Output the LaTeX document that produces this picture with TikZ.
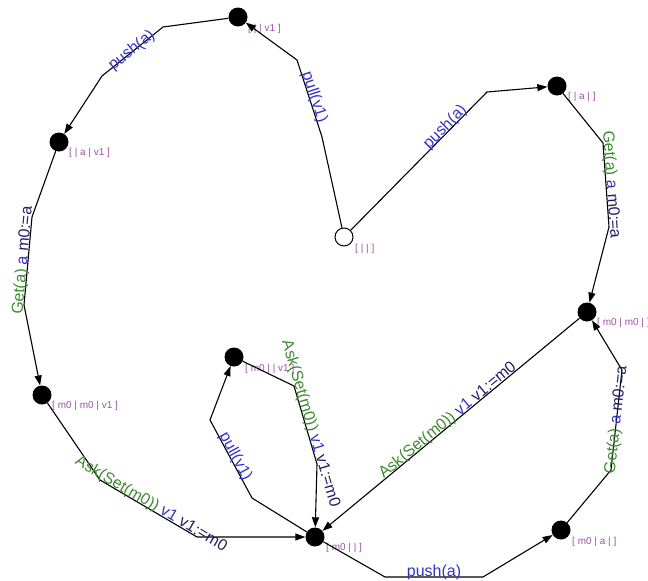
\documentclass[tikz,border=0pt]{standalone}
\usepackage{fontspec}
\setmainfont{Liberation Sans}
\usetikzlibrary{arrows.meta,positioning}
\definecolor{act}{HTML}{3333CC}
\definecolor{guard}{HTML}{3D8B2F}
\definecolor{asgn}{HTML}{1F1F66}
\definecolor{tagc}{HTML}{A050A8}

\begin{document}
\begin{tikzpicture}[x=1pt,y=-1pt,
  st/.style={circle,fill=black,minimum size=19pt,inner sep=0pt},
  ini/.style={circle,draw=black,fill=white,line width=1pt,minimum size=18pt,inner sep=0pt},
  tag/.style={font=\fontsize{10}{12}\selectfont,text=tagc,inner sep=0pt,anchor=north west},
  edge/.style={line width=1.1pt,-{Triangle[length=10pt,width=7pt]}},
  lbl/.style={font=\fontsize{16}{18}\selectfont,sloped,above=-3pt,inner sep=0pt}]
\useasboundingbox (0,0) rectangle (648,581);
\node[ini] (e) at (344,237) {};
\node[tag] (te) at (355,244) {[ | | ]};
\node[st] (t) at (238,17) {};
\node[tag] (tt) at (248,24) {[ | | v1 ]};
\node[st] (r1) at (557,86) {};
\node[tag] (tr1) at (568,92) {[ | a | ]};
\node[st] (l1) at (59,142) {};
\node[tag] (tl1) at (69,148) {[ | a | v1 ]};
\node[st] (l2) at (42,395) {};
\node[tag] (tl2) at (52,401) {[ m0 | m0 | v1 ]};
\node[st] (r2) at (587,312) {};
\node[tag] (tr2) at (597,318) {[ m0 | m0 | ]};
\node[st] (m) at (234,357) {};
\node[tag] (tm) at (245,364) {[ m0 | | v1 ]};
\node[st] (c) at (315,537) {};
\node[tag] (tc) at (326,543) {[ m0 | | ]};
\node[st] (r3) at (561,530) {};
\node[tag] (tr3) at (572,537) {[ m0 | a | ]};
\draw[edge] (e) -- (322,137) -- node[lbl,text=act] {pull(v1)} (297,60) -- (t);
\draw[edge] (e) -- node[lbl,text=act,pos=0.72] {push(a)} (487,92) -- (r1);
\draw[edge] (t) -- (163,27) -- node[lbl,text=act,above=-7pt] {push(a)} (102,76) -- (l1);
\draw[edge] (l1) -- (32,217) -- node[lbl] {{\color{guard}Get(a)} {\color{act}a} {\color{asgn}m0:=a}} (24,305) -- (l2);
\draw[edge] (l2) -- (100,480) -- node[lbl] {{\color{guard}Ask(Set(m0))} {\color{act}v1} {\color{asgn}v1:=m0}} (197,537) -- (c);
\draw[edge] (r1) -- (603,143) -- node[lbl] {{\color{guard}Get(a)} {\color{act}a} {\color{asgn}m0:=a}} (609,227) -- (r2);
\draw[edge] (r2) -- node[lbl] {{\color{guard}Ask(Set(m0))} {\color{act}v1} {\color{asgn}v1:=m0}} (c);
\draw[edge] (r3) -- (611,470) -- node[lbl,above=-8pt] {{\color{guard}Get(a)} {\color{act}a} {\color{asgn}m0:=a}} (622,370) -- (r2);
\draw[edge] (c) -- (385,577) -- node[lbl,text=act] {push(a)} (483,577) -- (r3);
\draw[edge] (c) -- (252,498) -- node[lbl,text=act] {pull(v1)} (210,420) -- (m);
\draw[edge] (m) -- (294,386) -- node[lbl] {{\color{guard}Ask(Set(m0))} {\color{act}v1} {\color{asgn}v1:=m0}} (317,464) -- (c);
\end{tikzpicture}
\end{document}
